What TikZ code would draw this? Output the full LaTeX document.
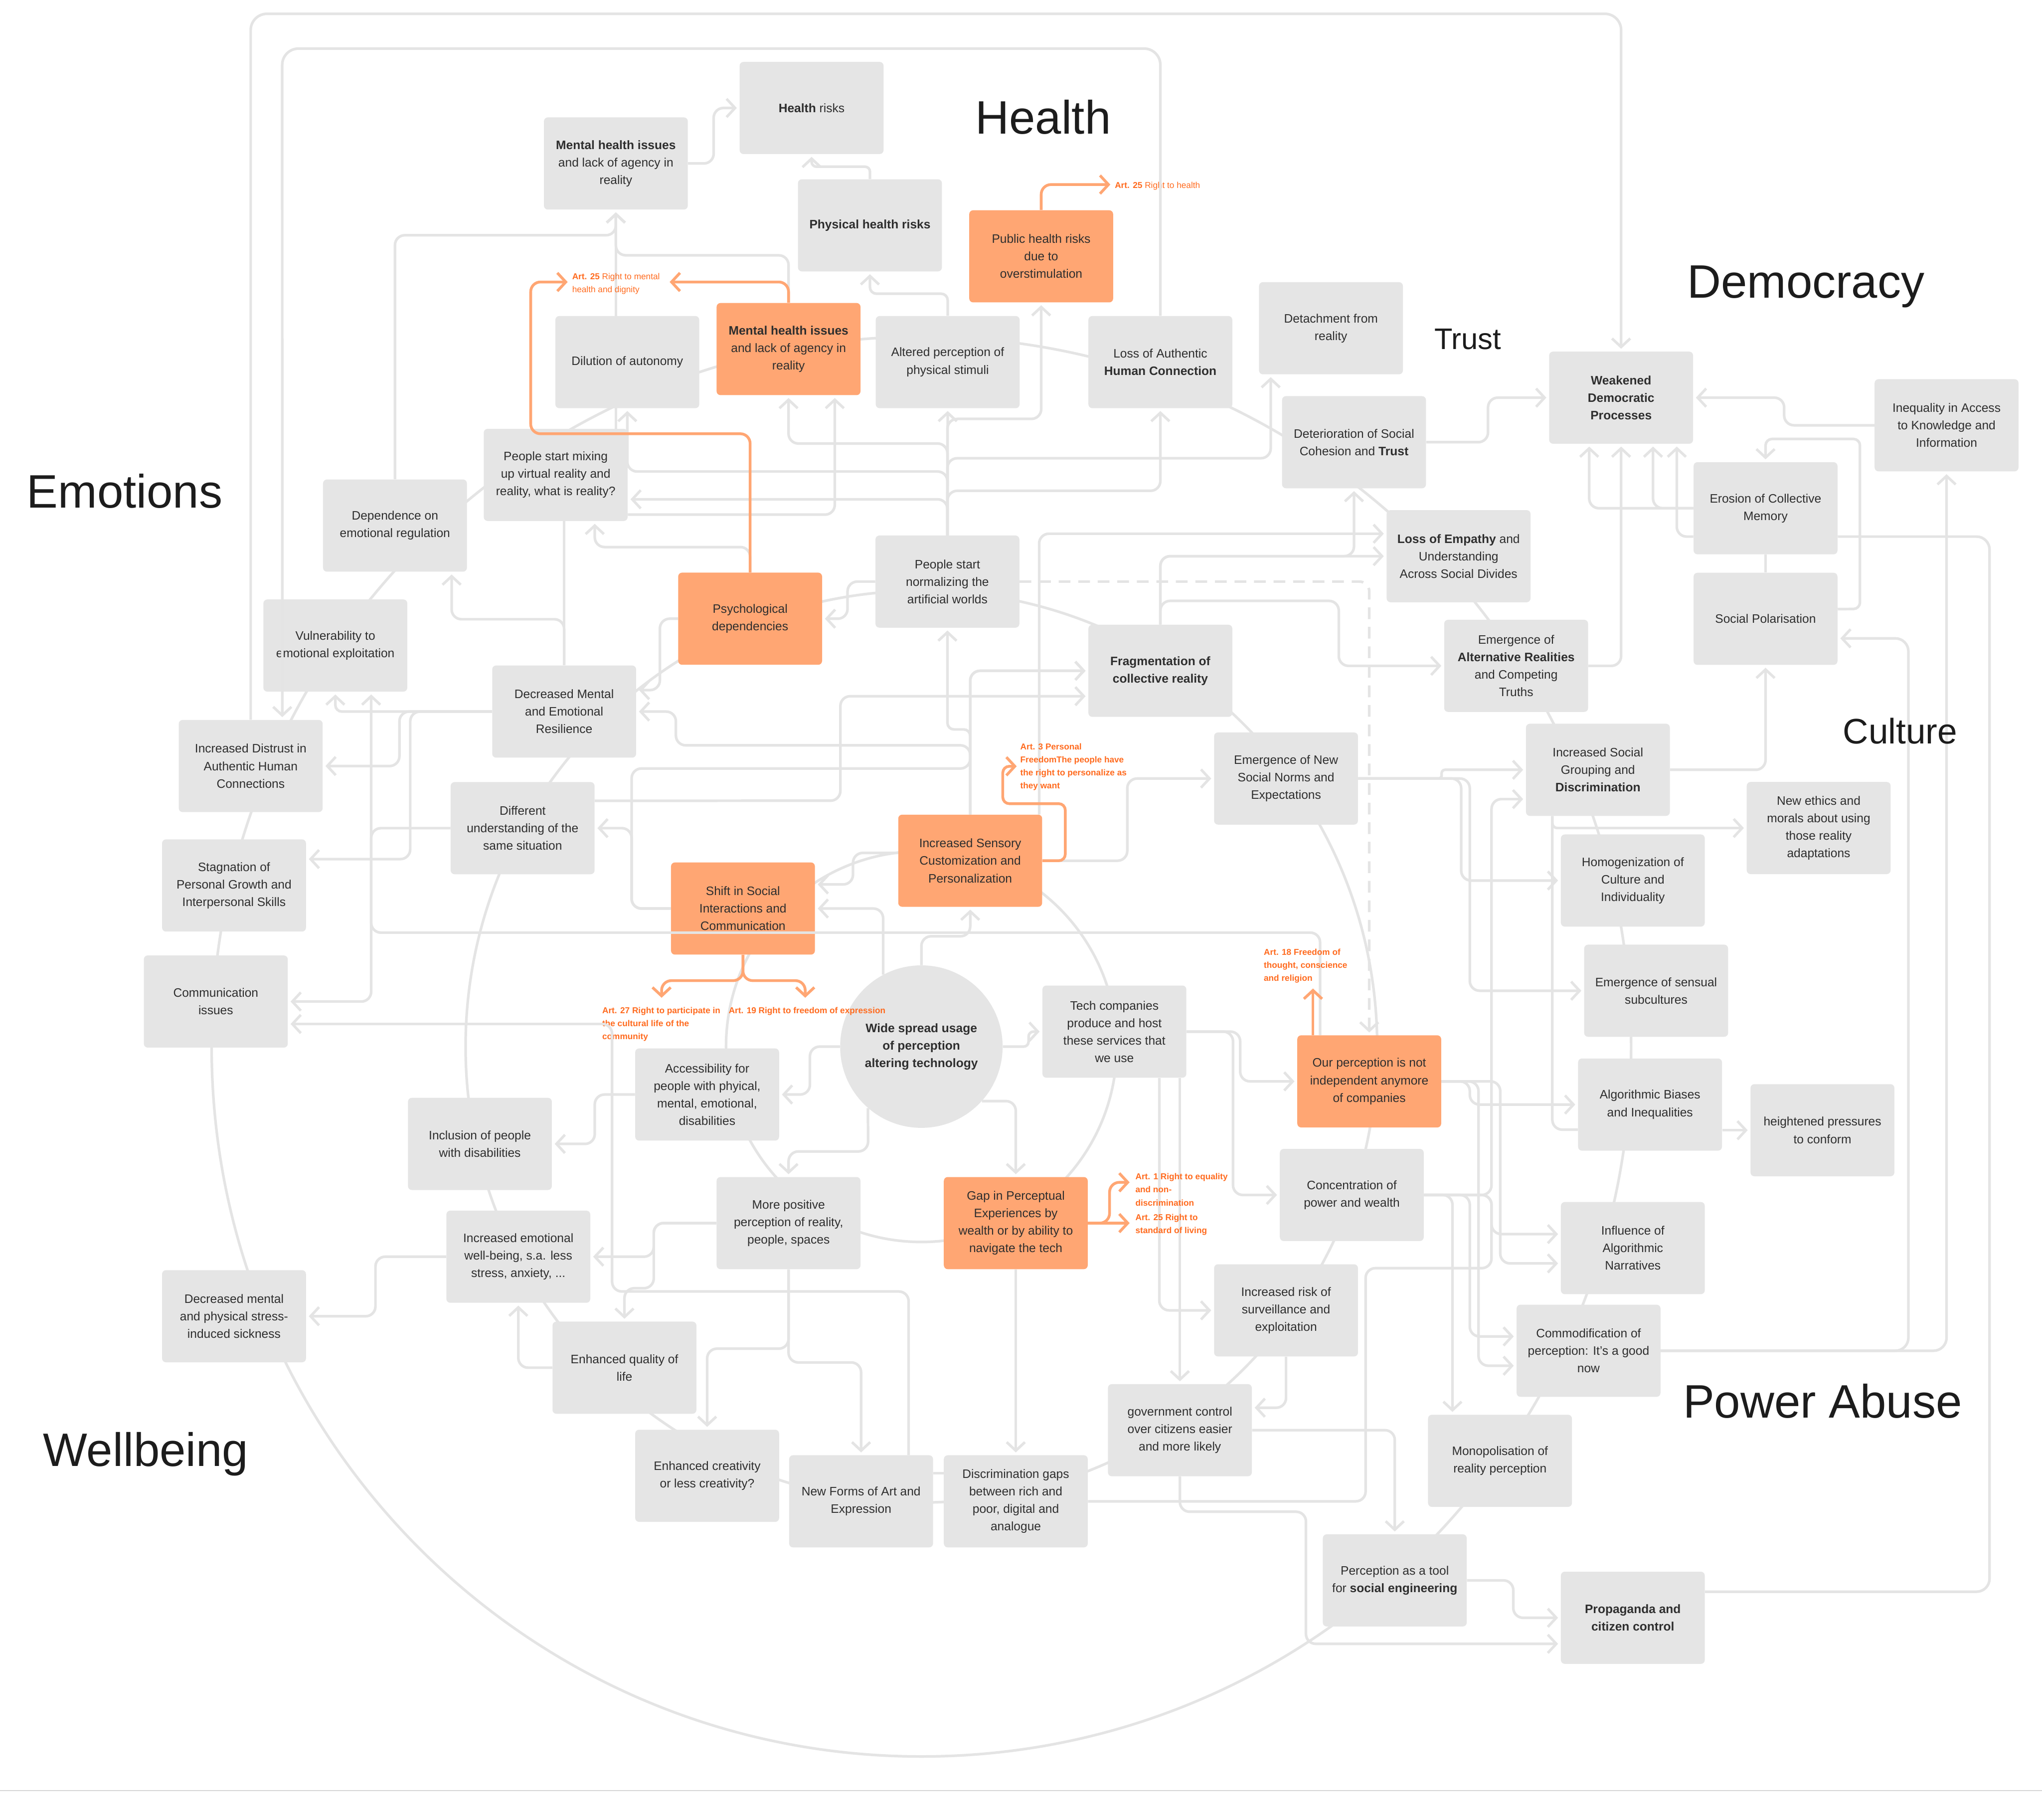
\documentclass[tikz,border=0pt]{standalone}
\usepackage{fontspec}
\setmainfont{Liberation Sans}
\usetikzlibrary{arrows.meta}
\definecolor{BoxGrey}{HTML}{E5E5E5}
\definecolor{LineGrey}{HTML}{E4E4E4}
\definecolor{RuleGrey}{HTML}{D6D6D6}
\definecolor{SoftOrange}{HTML}{FFA673}
\definecolor{ArtOrange}{HTML}{FF6B1F}
\definecolor{InkGrey}{HTML}{2E2E2E}
\definecolor{TitleInk}{HTML}{1C1C1C}
\newcommand\boxfont{\fontsize{10.7}{15.3}\selectfont}
\newcommand\artfont{\fontsize{7.5}{11.4}\selectfont}
\newcommand\themefont{\fontsize{41}{48}\selectfont}
\pgfdeclarelayer{back}
\pgfdeclarelayer{links}
\pgfsetlayers{back,links,main}
\tikzset{
  box/.style={rectangle,rounded corners=1.2mm,fill=BoxGrey,text=InkGrey,
    minimum width=44.2mm,minimum height=28.3mm,align=center,font=\boxfont},
  hotbox/.style={box,fill=SoftOrange},
  wide/.style={circle,fill=BoxGrey,text=InkGrey,minimum size=49.9mm,
    inner sep=0pt,align=center,font=\boxfont\bfseries},
  theme/.style={anchor=base,text=TitleInk,font=\themefont},
  article/.style={anchor=north west,inner sep=0pt,align=left,
    text=ArtOrange,font=\artfont},
  articlebf/.style={article,font=\artfont\bfseries},
  link/.style={draw=LineGrey,line width=0.8mm,rounded corners=3mm},
  linkto/.style={link,-{Straight Barb[length=2.6mm,width=5.6mm]},shorten >=0.8mm},
  hotlink/.style={draw=SoftOrange,line width=0.85mm,rounded corners=3mm,
    -{Straight Barb[length=2.6mm,width=5.6mm]}},
  ring/.style={draw=LineGrey,line width=0.8mm}
}
\begin{document}
\begin{tikzpicture}[x=0.4mm,y=-0.4mm]
\useasboundingbox (0,0) rectangle (1568,1397);

\node[box] (healthrisk) at (623.2,82.9) {\textbf{Health} risks};
\node[box] (mentaltop) at (472.9,125.5) {\textbf{Mental health issues}\\and lack of agency in\\reality};
\node[box] (physical) at (668,173) {\textbf{Physical health risks}};
\node[hotbox] (publichealth) at (799.5,196.8) {Public health risks\\due to\\overstimulation};
\node[box] (dilution) at (481.7,278) {Dilution of autonomy};
\node[hotbox] (mentalorg) at (605.5,268) {\textbf{Mental health issues}\\and lack of agency in\\reality};
\node[box] (altered) at (727.7,278) {Altered perception of\\physical stimuli};
\node[box] (lossauth) at (891,278) {Loss of Authentic\\\textbf{Human Connection}};
\node[box] (detach) at (1022,252) {Detachment from\\reality};
\node[box] (deterior) at (1039.7,339.5) {Deterioration of Social\\Cohesion and \textbf{Trust}};
\node[box] (weakened) at (1244.8,305.3) {\textbf{Weakened}\\\textbf{Democratic}\\\textbf{Processes}};
\node[box] (inequal) at (1494.7,326.5) {Inequality in Access\\to Knowledge and\\Information};
\node[box] (erosion) at (1355.7,390.2) {Erosion of Collective\\Memory};
\node[box] (polar) at (1355.7,475.1) {Social Polarisation};
\node[box] (empathy) at (1120,427) {\textbf{Loss of Empathy} and\\Understanding\\Across Social Divides};
\node[box] (altreal) at (1164.2,511.2) {Emergence of\\\textbf{Alternative Realities}\\and Competing\\Truths};
\node[box] (mixing) at (426.7,364.6) {People start mixing\\up virtual reality and\\reality, what is reality?};
\node[box] (depend) at (303.3,403.5) {Dependence on\\emotional regulation};
\node[box] (vulner) at (257.5,495.6) {Vulnerability to\\emotional exploitation};
\node[box] (decmental) at (433.2,546.3) {Decreased Mental\\and Emotional\\Resilience};
\node[box] (distrust) at (192.5,588.1) {Increased Distrust in\\Authentic Human\\Connections};
\node[box] (different) at (401.3,635.8) {Different\\understanding of the\\same situation};
\node[box] (stagnation) at (179.7,679.8) {Stagnation of\\Personal Growth and\\Interpersonal Skills};
\node[box] (normal) at (727.5,446.5) {People start\\normalizing the\\artificial worlds};
\node[hotbox] (psych) at (576,475) {Psychological\\dependencies};
\node[box] (fragment) at (891,515) {\textbf{Fragmentation of}\\\textbf{collective reality}};
\node[box] (norms) at (987.5,597.7) {Emergence of New\\Social Norms and\\Expectations};
\node[hotbox] (sensory) at (745,660.8) {Increased Sensory\\Customization and\\Personalization};
\node[hotbox] (shift) at (570.5,697.5) {Shift in Social\\Interactions and\\Communication};
\node[box] (grouping) at (1227,591) {Increased Social\\Grouping and\\\textbf{Discrimination}};
\node[box] (ethics) at (1396.5,635.7) {New ethics and\\morals about using\\those reality\\adaptations};
\node[box] (homog) at (1253.8,676) {Homogenization of\\Culture and\\Individuality};
\node[box] (sensual) at (1271.7,760.6) {Emergence of sensual\\subcultures};
\node[box] (algo) at (1267,848) {Algorithmic Biases\\and Inequalities};
\node[box] (pressure) at (1399.4,867.7) {heightened pressures\\to conform};
\node[box] (commiss) at (165.7,768.9) {Communication\\issues};
\node[wide] (wide) at (707.5,803.5) {Wide spread usage\\of perception\\altering technology};
\node[box] (tech) at (855.7,792) {Tech companies\\produce and host\\these services that\\we use};
\node[hotbox] (ourperc) at (1051.4,830.2) {Our perception is not\\independent anymore\\of companies};
\node[box] (access) at (543,840.3) {Accessibility for\\people with phyical,\\mental, emotional,\\disabilities};
\node[box] (inclusion) at (368.5,878.2) {Inclusion of people\\with disabilities};
\node[box] (positive) at (605.5,939) {More positive\\perception of reality,\\people, spaces};
\node[hotbox] (gap) at (780,939) {Gap in Perceptual\\Experiences by\\wealth or by ability to\\navigate the tech};
\node[box] (concent) at (1038,917.4) {Concentration of\\power and wealth};
\node[box] (influence) at (1253.8,958.2) {Influence of\\Algorithmic\\Narratives};
\node[box] (emotional) at (398,964.8) {Increased emotional\\well-being, s.a. less\\stress, anxiety, ...};
\node[box] (decmp) at (179.7,1010.5) {Decreased mental\\and physical stress-\\induced sickness};
\node[box] (risk) at (987.5,1006) {Increased risk of\\surveillance and\\exploitation};
\node[box] (quality) at (479.5,1050) {Enhanced quality of\\life};
\node[box] (commod) at (1219.8,1037) {Commodification of\\perception: It’s a good\\now};
\node[box] (govern) at (906,1098) {government control\\over citizens easier\\and more likely};
\node[box] (monopol) at (1151.8,1121.5) {Monopolisation of\\reality perception};
\node[box] (creativity) at (543,1133) {Enhanced creativity\\or less creativity?};
\node[box] (newforms) at (661.2,1152.6) {New Forms of Art and\\Expression};
\node[box] (discgaps) at (780,1152.6) {Discrimination gaps\\between rich and\\poor, digital and\\analogue};
\node[box] (tool) at (1071,1213.3) {Perception as a tool\\for \textbf{social engineering}};
\node[box] (propaganda) at (1253.8,1242) {\textbf{Propaganda and}\\\textbf{citizen control}};

\node[theme] (thealth) at (801,102.7) {Health};
\node[theme] (tdemocracy) at (1386.7,228.6) {Democracy};
\node[theme,font=\fontsize{26}{30}\selectfont] (ttrust) at (1127,268) {Trust};
\node[theme] (temotions) at (95.7,390) {Emotions};
\node[theme,font=\fontsize{31}{36}\selectfont] (tculture) at (1459,571) {Culture};
\node[theme] (twellbeing) at (112,1125.6) {Wellbeing};
\node[theme] (tpower) at (1399.5,1088.6) {Power Abuse};

\coordinate (tipM1) at (514.2,216.5);
\coordinate (tipM2) at (435.9,216.5);
\coordinate (tipH) at (852.6,141.7);
\coordinate (tip3) at (780.7,588.3);
\coordinate (tip27) at (508,766);
\coordinate (tip19) at (618.3,766);
\coordinate (tip18) at (1008.2,758.9);
\coordinate (tip1) at (867.4,907.7);
\coordinate (tip25) at (867.4,939);

\begin{pgfonlayer}{back}
  \fill[white] (0,0) rectangle (1568,1397);
  \draw[ring] (wide.center) circle[radius=150];
  \draw[ring] (wide.center) circle[radius=350];
  \draw[ring] (wide.center) circle[radius=545];
  \draw[RuleGrey,line width=0.3mm] (0,1374.8) -- (1568,1374.8);
\end{pgfonlayer}

\begin{pgfonlayer}{links}
  \draw[linkto,rounded corners=5mm] (distrust.north) |- (1244.8,10.6) -- (weakened.north);
  \draw[linkto] (mentaltop.east) -- (548,125.5) |- (healthrisk.west);
  \draw[linkto,rounded corners=1.5mm] (physical.north) -- (668,128) -| (healthrisk.south);
  \draw[linkto,rounded corners=2mm] (altered.north) -- (727.7,225.5) -| (physical.south);
  \draw[linkto] (depend.north) |- (472.9,180.6) -- (mentaltop.south);
  \draw[linkto] (mixing.north -| mentaltop.south) -- (mentaltop.south);
  \draw[linkto] (mentalorg.north) |- (472.9,196) -- (mentaltop.south);
  \draw[linkto] (normal.north) -- (altered.south);
  \draw[linkto] (normal.north) -- (727.5,321.6) -| (publichealth.south);
  \draw[linkto] (normal.north) -- (727.5,340.5) -| (mentalorg.south);
  \draw[linkto] (normal.north) -- (727.5,362) -| (dilution.south);
  \draw[linkto] (normal.north) |- ([yshift=-7.5mm]mixing.east);
  \draw[linkto] (normal.north) -- (727.5,376.8) -| (lossauth.south);
  \draw[linkto] (normal.north) -- (727.5,351.8) -| ([xshift=-18.5mm]detach.south);
  \draw[linkto] ([yshift=-12.2mm]mixing.east) -| ([xshift=14.2mm]mentalorg.south);
  \draw[linkto] (psych.north) -- (576,420) -| ([xshift=12mm]mixing.south);
  \draw[link] (decmental.north) -- (mixing.south -| decmental.north);
  \draw[linkto] (decmental.north) -- (433.2,475.4) -| ([xshift=17.4mm]depend.south);
  \draw[linkto,rounded corners=2mm] (decmental.west) -| (vulner.south);
  \draw[linkto] (decmental.west) -- (306.7,546.3) |- (distrust.east);
  \draw[linkto] (decmental.west) -- (315,546.3) |- ([yshift=8.1mm]stagnation.east);
  \draw[linkto] (different.west) -- (285,635.8) |- (commiss.east);
  \draw[linkto] (positive.south) -- (605.5,1046) -| (newforms.north);
  \draw[linkto] (positive.south) -- (605.5,1035.4) -| (creativity.north);
  \draw[linkto] (positive.west) -- (502,939) |- (emotional.east);
  \draw[linkto] (positive.west) -- (502,939) -- (502,989) -| (quality.north);
  \draw[linkto] (quality.west) -| (emotional.south);
  \draw[linkto] (emotional.west) -- (288.3,964.8) |- (decmp.east);
  \draw[linkto] (access.west) -- (456.7,840.3) |- (inclusion.east);
  \draw[linkto] (wide.west) -- (621.9,803.5) |- (access.east);
  \draw[linkto] (wide.-131) -- (666.6,884) -| (positive.north);
  \draw[linkto] (wide.-42) -| (gap.north);
  \draw[linkto,rounded corners=1.5mm] (wide.east) -- (789.8,803.5) |- (tech.west);
  \draw[linkto] (wide.north) -- (707.5,718.8) -| (sensory.south);
  \draw[linkto] (wide.118) |- (shift.east);
  \draw[linkto] ([yshift=2.4mm]sensory.west) -- (655,654.8) |- ([yshift=7.4mm]shift.east);
  \draw[linkto,rounded corners=2mm] (sensory.north) -- (745,560) -| (normal.south);
  \draw[linkto] (sensory.north) |- (fragment.west);
  \draw[linkto] (sensory.north) |- (519,572.2) |- (decmental.east);
  \draw[linkto] (shift.west) -- (485,697.5) |- (745,590) |- (fragment.west);
  \draw[linkto] (shift.west) -- (485,697.5) |- (different.east);
  \draw[linkto] ([yshift=8.4mm]different.east) -- (645.3,614.7) |- ([yshift=-7.8mm]fragment.west);
  \draw[linkto] (psych.west) -- (506.7,475) |- ([yshift=6.6mm]decmental.east);
  \draw[linkto] (normal.west) -- (650.8,446.5) |- (psych.east);
  \draw[linkto,dash pattern=on 3.6mm off 2.4mm] (normal.east) -| (ourperc.north);
  \draw[linkto] ([xshift=-1mm]sensory.north east) |- ([yshift=6.9mm]empathy.west);
  \draw[linkto] (fragment.north) |- (empathy.west);
  \draw[linkto] (fragment.north) -- (891,427) -| (deterior.south);
  \draw[linkto] (fragment.north) -- (891,461.3) -| (1028,480) |- (altreal.west);
  \draw[linkto] (sensory.east) -- (865.6,660.8) |- (norms.west);
  \draw[linkto] (tech.east) -- (952.3,792) |- (ourperc.west);
  \draw[linkto] (tech.east) -- (946.8,792) |- (concent.west);
  \draw[linkto] ([xshift=13.8mm]tech.south) |- (risk.west);
  \draw[linkto] (tech.south -| govern.north) -- (govern.north);
  \draw[linkto] (risk.south) |- ([yshift=6.9mm]govern.east);
  \draw[linkto] (govern.east) -| (tool.north);
  \draw[linkto] (govern.south) -- (906,1160.6) -| (1002.8,1200) |- ([yshift=-8mm]propaganda.west);
  \draw[linkto] (tool.east) -- (1162,1213.3) |- (propaganda.west);
  \draw[link,rounded corners=4mm] ([yshift=8mm]propaganda.east) -| (1527.7,800) |- ([yshift=-8.7mm]erosion.east);
  \draw[linkto,rounded corners=4mm] (commod.east) -| (inequal.south);
  \draw[linkto,rounded corners=4mm] (commod.east) -| (1465.4,700) |- ([yshift=-6mm]polar.east);
  \draw[linkto,rounded corners=2mm] ([yshift=3mm]polar.east) -- (1428.2,467.5) |- (1355.7,337) -- (erosion.north);
  \draw[link] (erosion.south) -- (polar.north);
  \draw[linkto] (erosion.west) -| ([xshift=-9.8mm]weakened.south);
  \draw[linkto] (erosion.west) -| ([xshift=9.8mm]weakened.south);
  \draw[linkto] ([yshift=-8.7mm]erosion.west) -| ([xshift=17.1mm]weakened.south);
  \draw[linkto] (altreal.east) -| (weakened.south);
  \draw[linkto] (deterior.east) -- (1142.6,339.5) |- (weakened.west);
  \draw[linkto] (inequal.west) -- (1370,326.5) |- (weakened.east);
  \draw[linkto] (grouping.east) -| (polar.south);
  \draw[linkto,rounded corners=1.5mm] ([xshift=-14mm]grouping.south) |- (ethics.west);
  \draw[link] ([xshift=-14mm]grouping.south) |- ([yshift=-7.7mm]algo.west);
  \draw[linkto,rounded corners=1mm] (norms.east) -- (1107,597.7) |- (grouping.west);
  \draw[linkto] (norms.east) -- (1122,597.7) |- (homog.west);
  \draw[linkto] (norms.east) -- (1128.6,597.7) |- (sensual.west);
  \draw[linkto] (concent.east) -- (1145.3,917.4) |- ([yshift=-9mm]grouping.west);
  \draw[linkto] (concent.east) -- (1145.3,917.4) |- ([yshift=4.3mm]influence.west);
  \draw[linkto] (concent.east) -| ([xshift=-14.6mm]monopol.north);
  \draw[linkto] (concent.east) -- (1128.6,917.4) |- ([yshift=4.4mm]commod.west);
  \draw[link] (concent.east) -- (1145.3,917.4) |- (1048.6,973.6) |- (discgaps.east);
  \draw[linkto] (ourperc.east) -- (1128.6,830.2) |- (algo.west);
  \draw[linkto] (ourperc.east) -- (1135.3,830.2) |- ([yshift=-4.6mm]commod.west);
  \draw[linkto] (ourperc.east) -- (1152,830.2) |- ([yshift=-4.7mm]influence.west);
  \draw[linkto] (pressure.west -| algo.east) -- (pressure.west);
  \draw[linkto] (gap.south) -- (discgaps.north);
  \draw[link] ([yshift=8.6mm]newforms.east) -- ([yshift=8.6mm]discgaps.west);
\end{pgfonlayer}

\draw[linkto] ([xshift=-15.1mm]ourperc.north) |- (285,716) -- ([xshift=11mm]vulner.south);

\node[article] (art25m) at (439.2,209.5) {\textbf{Art. 25} Right to mental\\health and dignity};
\node[article] (art25h) at (855.9,139.4) {\textbf{Art. 25} Right to health};
\node[articlebf] (art3) at (783.3,570.5) {Art. 3 Personal\\FreedomThe people have\\the right to personalize as\\they want};
\node[articlebf] (art27) at (462.3,773) {Art. 27 Right to participate in\\the cultural life of the\\community};
\node[articlebf] (art19) at (559.4,773) {Art. 19 Right to freedom of expression};
\node[articlebf] (art18) at (970.3,728.3) {Art. 18 Freedom of\\thought, conscience\\and religion};
\node[articlebf] (art1) at (871.7,900.7) {Art. 1 Right to equality\\and non-\\discrimination};
\node[articlebf] (art25l) at (871.7,931.8) {Art. 25 Right to\\standard of living};

\draw[linkto,rounded corners=5mm] (lossauth.north) |- (216.7,37.3) -- ([xshift=9.7mm]distrust.north);
\draw[linkto] ([xshift=14.6mm]newforms.north) |- (470,991.5) |- ([yshift=-6.9mm]commiss.east);

\draw[hotlink] (mentalorg.north) |- (tipM1);
\draw[hotlink] (psych.north) |- (407.5,333) |- (tipM2);
\draw[hotlink] (publichealth.north) |- (tipH);
\draw[hotlink,rounded corners=2mm] (sensory.east) -- (818,660.8) |- (770,617) |- (tip3);
\draw[hotlink] (shift.south) -- ++(0,19.8) -| (tip27);
\draw[hotlink] (shift.south) -- ++(0,19.8) -| (tip19);
\draw[hotlink] (ourperc.north -| tip18) -- (tip18);
\draw[hotlink] (gap.east) -- (852,939) |- (tip1);
\draw[hotlink] (gap.east) -- (tip25);
\end{tikzpicture}
\end{document}
